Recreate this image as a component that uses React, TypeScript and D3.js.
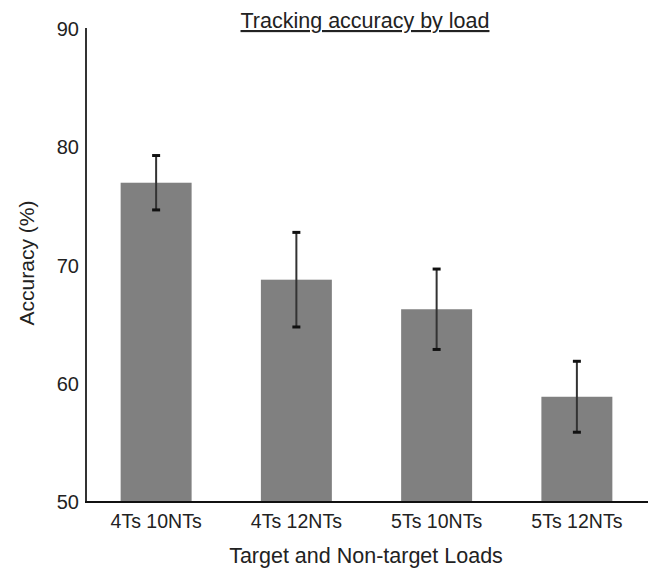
import React from "react";
import * as d3 from "d3";

const categories = ["4Ts 10NTs", "4Ts 12NTs", "5Ts 10NTs", "5Ts 12NTs"];
const means = [77.0, 68.8, 66.3, 58.9];
const errors = [2.3, 4.0, 3.4, 3.0];
const yTicks = [50, 60, 70, 80, 90];

const W = 649;
const H = 569;
const left = 86;
const right = 647;
const top = 29;
const bottom = 502;
const font = "'Liberation Sans', Arial, Helvetica, sans-serif";

export default function App() {
  const x = d3
    .scaleBand<string>()
    .domain(categories)
    .range([left, right])
    .paddingInner(0.494)
    .paddingOuter(0.247);
  const y = d3.scaleLinear().domain([50, 90]).range([bottom, top]);

  return (
    <svg
      width={W}
      height={H}
      style={{ position: "absolute", left: 0, top: 0, background: "#fff" }}
      fontFamily={font}
    >
      {/* bars */}
      {categories.map((c, i) => (
        <rect
          key={c}
          x={x(c)}
          y={y(means[i])}
          width={x.bandwidth()}
          height={y(50) - y(means[i])}
          fill="#808080"
        />
      ))}
      {/* error bars */}
      {categories.map((c, i) => {
        const cx = (x(c) as number) + x.bandwidth() / 2;
        const hi = y(means[i] + errors[i]);
        const lo = y(means[i] - errors[i]);
        return (
          <g key={c + "err"}>
            <line x1={cx} x2={cx} y1={hi} y2={lo} stroke="#333" strokeWidth={2} />
            <line x1={cx - 4} x2={cx + 4} y1={hi} y2={hi} stroke="#111" strokeWidth={3} />
            <line x1={cx - 4} x2={cx + 4} y1={lo} y2={lo} stroke="#111" strokeWidth={3} />
          </g>
        );
      })}
      {/* axes */}
      <line x1={left} x2={left} y1={top - 1} y2={bottom + 1} stroke="#333" strokeWidth={2} />
      <line x1={left - 1} x2={right + 1} y1={bottom} y2={bottom} stroke="#111" strokeWidth={2} />
      {yTicks.map((t) => (
        <text
          key={t}
          x={79}
          y={y(t)}
          dy="0.36em"
          textAnchor="end"
          fontSize={20}
          fill="#222"
        >
          {t}
        </text>
      ))}
      {categories.map((c) => (
        <text
          key={c + "lab"}
          x={(x(c) as number) + x.bandwidth() / 2}
          y={528}
          textAnchor="middle"
          fontSize={19.5}
          fill="#222"
        >
          {c}
        </text>
      ))}
      {/* titles */}
      <text x={365} y={28} textAnchor="middle" fontSize={21.5} fill="#222" textDecoration="underline">
        Tracking accuracy by load
      </text>
      <text x={366} y={563} textAnchor="middle" fontSize={21.5} fill="#222">
        Target and Non-target Loads
      </text>
      <text
        transform={`translate(34,${263}) rotate(-90)`}
        textAnchor="middle"
        fontSize={21}
        fill="#222"
      >
        Accuracy (%)
      </text>
    </svg>
  );
}
